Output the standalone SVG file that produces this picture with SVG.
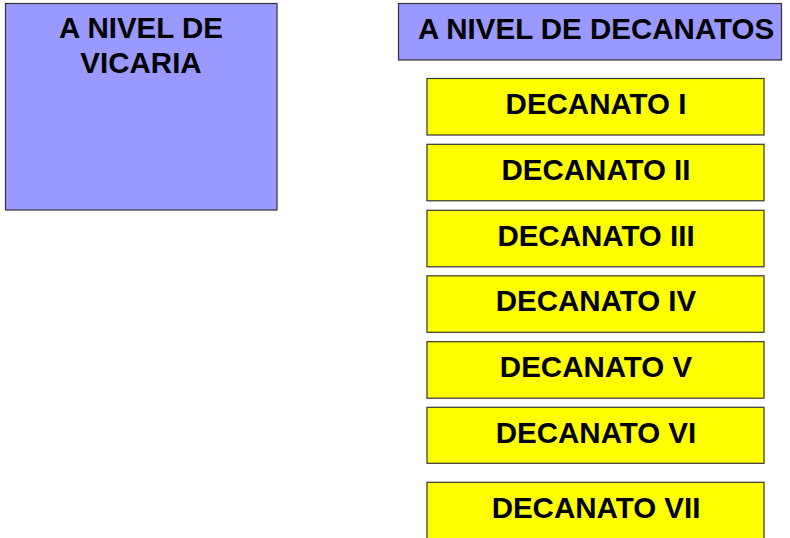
<svg xmlns="http://www.w3.org/2000/svg" width="790" height="538" viewBox="0 0 790 538">
<style>
.box{stroke:#333333;stroke-width:1.2}
.p{fill:#9999FF}
.y{fill:#FFFF00}
text{font-family:"Liberation Sans",Arial,sans-serif;font-weight:bold;font-size:29.5px;fill:#000;text-anchor:middle}
</style>
<rect width="790" height="538" fill="#ffffff"/>
<g id="vicaria">
<rect class="box p" x="5.5" y="3.5" width="271.5" height="206.5"/>
<text x="141" y="37.7">A NIVEL DE</text>
<text x="141" y="72.7">VICARIA</text>
</g>
<g id="decanatos">
<rect class="box p" x="398.5" y="3.5" width="383" height="56.5"/>
<text x="596" y="39.3">A NIVEL DE DECANATOS</text>
</g>
<g id="decanato1">
<rect class="box y" x="427" y="78.5" width="337" height="56.5"/>
<text x="596" y="114.3">DECANATO I</text>
</g>
<g id="decanato2">
<rect class="box y" x="427" y="144.3" width="337" height="56.5"/>
<text x="596" y="180">DECANATO II</text>
</g>
<g id="decanato3">
<rect class="box y" x="427" y="210.3" width="337" height="56.5"/>
<text x="596" y="245.5">DECANATO III</text>
</g>
<g id="decanato4">
<rect class="box y" x="427" y="275.8" width="337" height="56.5"/>
<text x="596" y="311">DECANATO IV</text>
</g>
<g id="decanato5">
<rect class="box y" x="427" y="341.7" width="337" height="56.5"/>
<text x="596" y="376.7">DECANATO V</text>
</g>
<g id="decanato6">
<rect class="box y" x="427" y="407.3" width="337" height="56"/>
<text x="596" y="442.7">DECANATO VI</text>
</g>
<g id="decanato7">
<rect class="box y" x="427" y="482.3" width="337" height="60"/>
<text x="596" y="517.7">DECANATO VII</text>
</g>
<g id="connectors"></g>
</svg>
